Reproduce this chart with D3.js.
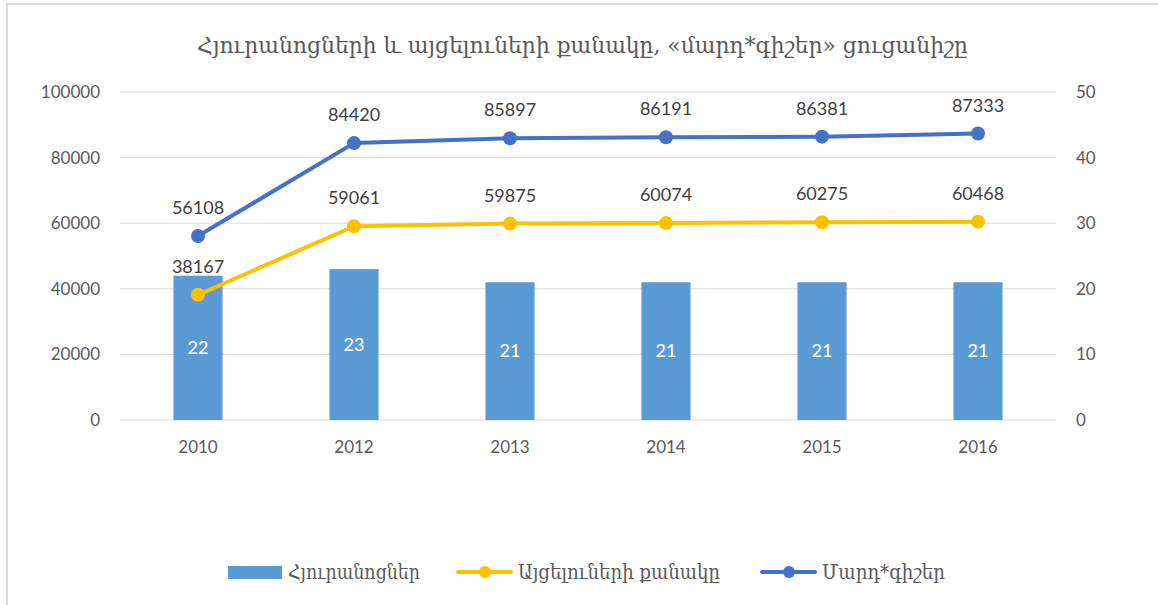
<!DOCTYPE html>
<html>
<head>
<meta charset="utf-8">
<script src="https://cdn.jsdelivr.net/npm/d3@7"></script>
<style>
  html, body { margin: 0; padding: 0; background: #fff; }
  svg { display: block; }
</style>
</head>
<body>
<div id="chart"></div>
<script>
// data
const years = ['2010', '2012', '2013', '2014', '2015', '2016'];
const hotels = [22, 23, 21, 21, 21, 21];
const visitors = [38167, 59061, 59875, 60074, 60275, 60468];
const nights = [56108, 84420, 85897, 86191, 86381, 87333];
const leftTicks = [0, 20000, 40000, 60000, 80000, 100000];
const rightTicks = [0, 10, 20, 30, 40, 50];

const title = 'Հյուրանոցների և այցելուների քանակը, «մարդ*գիշեր» ցուցանիշը';
const seriesNames = ['Հյուրանոցներ', 'Այցելուների քանակը', 'Մարդ*գիշեր'];

const width = 1158, height = 605;
const margin = { top: 92, right: 102, bottom: 185, left: 120 };
const numFont = 'Lato, "Open Sans", sans-serif';
const armFont = '"DejaVu Serif Condensed", "DejaVu Serif", serif';
const textColor = '#595959';
const colors = { bar: '#5b9bd5', visitors: '#ffc000', nights: '#4472c4' };

const svg = d3.select('#chart')
    .append('svg')
    .attr('width', width)
    .attr('height', height);

// chart frame
svg.append('rect')
    .attr('x', 7).attr('y', 4)
    .attr('width', width + 10).attr('height', height + 10)
    .attr('fill', 'none')
    .attr('stroke', '#d9d9d9')
    .attr('stroke-width', 2);

const x = d3.scaleBand()
    .domain(years)
    .range([margin.left, width - margin.right]);

const yLeft = d3.scaleLinear()
    .domain([0, 100000])
    .range([height - margin.bottom, margin.top]);

const yRight = d3.scaleLinear()
    .domain([0, 50])
    .range([height - margin.bottom, margin.top]);

// gridlines
svg.append('g')
    .selectAll('line')
    .data(leftTicks)
    .join('line')
    .attr('x1', margin.left)
    .attr('x2', width - margin.right)
    .attr('y1', (d) => yLeft(d))
    .attr('y2', (d) => yLeft(d))
    .attr('stroke', '#d9d9d9')
    .attr('stroke-width', 1);

// left axis
const leftAxis = svg.append('g')
    .attr('transform', `translate(${ margin.left }, 0)`)
    .call(d3.axisLeft(yLeft).tickValues(leftTicks).tickSize(0).tickPadding(20).tickFormat(d3.format('d')));
leftAxis.select('.domain').remove();
leftAxis.selectAll('text')
    .attr('font-family', numFont)
    .attr('font-size', 17)
    .attr('fill', textColor);

// right axis
const rightAxis = svg.append('g')
    .attr('transform', `translate(${ width - margin.right }, 0)`)
    .call(d3.axisRight(yRight).tickValues(rightTicks).tickSize(0).tickPadding(20));
rightAxis.select('.domain').remove();
rightAxis.selectAll('text')
    .attr('font-family', numFont)
    .attr('font-size', 17)
    .attr('fill', textColor);

// bottom axis
const bottomAxis = svg.append('g')
    .attr('transform', `translate(0, ${ height - margin.bottom })`)
    .call(d3.axisBottom(x).tickSize(0).tickPadding(21));
bottomAxis.select('.domain').remove();
bottomAxis.selectAll('text')
    .attr('font-family', numFont)
    .attr('font-size', 17)
    .attr('fill', textColor);

// bars
const barW = x.bandwidth() * 0.315;
svg.append('g')
    .selectAll('rect')
    .data(hotels)
    .join('rect')
    .attr('x', (d, i) => x(years[i]) + x.bandwidth() / 2 - barW / 2)
    .attr('y', (d) => yRight(d))
    .attr('width', barW)
    .attr('height', (d) => yRight(0) - yRight(d))
    .attr('fill', colors.bar);

svg.append('g')
    .selectAll('text')
    .data(hotels)
    .join('text')
    .attr('x', (d, i) => x(years[i]) + x.bandwidth() / 2)
    .attr('y', (d) => (yRight(d) + yRight(0)) / 2 + 6)
    .attr('text-anchor', 'middle')
    .attr('font-family', numFont)
    .attr('font-size', 18)
    .attr('fill', '#fff')
    .text((d) => d);

// lines
const cx = (i) => x(years[i]) + x.bandwidth() / 2;
function drawLine(values, color) {
    const line = d3.line()
        .x((d, i) => cx(i))
        .y((d) => yLeft(d));
    const g = svg.append('g');
    g.append('path')
        .datum(values)
        .attr('d', line)
        .attr('fill', 'none')
        .attr('stroke', color)
        .attr('stroke-width', 4)
        .attr('stroke-linejoin', 'round');
    g.selectAll('circle')
        .data(values)
        .join('circle')
        .attr('cx', (d, i) => cx(i))
        .attr('cy', (d) => yLeft(d))
        .attr('r', 7)
        .attr('fill', color);
    g.selectAll('text')
        .data(values)
        .join('text')
        .attr('x', (d, i) => cx(i))
        .attr('y', (d) => yLeft(d) - 22)
        .attr('text-anchor', 'middle')
        .attr('font-family', numFont)
        .attr('font-size', 18)
        .attr('fill', '#404040')
        .text((d) => d);
}
drawLine(visitors, colors.visitors);
drawLine(nights, colors.nights);

// title
svg.append('text')
    .attr('x', 197)
    .attr('y', 53)
    .attr('font-family', armFont)
    .attr('font-size', 23)
    .attr('fill', textColor)
    .attr('textLength', 771)
    .attr('lengthAdjust', 'spacingAndGlyphs')
    .text(title);

// legend
const legendY = 572;
const legend = svg.append('g');
legend.append('rect')
    .attr('x', 228).attr('y', legendY - 6)
    .attr('width', 54).attr('height', 13)
    .attr('fill', colors.bar);
legend.append('text')
    .attr('x', 288).attr('y', legendY + 7)
    .attr('font-family', armFont).attr('font-size', 20).attr('fill', textColor)
    .attr('textLength', 132).attr('lengthAdjust', 'spacingAndGlyphs')
    .text(seriesNames[0]);

[[458, colors.visitors, seriesNames[1], 202], [762, colors.nights, seriesNames[2], 123]].forEach(([lx, c, name, tl]) => {
    legend.append('line')
        .attr('x1', lx).attr('x2', lx + 53)
        .attr('y1', legendY).attr('y2', legendY)
        .attr('stroke', c).attr('stroke-width', 4).attr('stroke-linecap', 'round');
    legend.append('circle')
        .attr('cx', lx + 27).attr('cy', legendY).attr('r', 6).attr('fill', c);
    legend.append('text')
        .attr('x', lx + 60).attr('y', legendY + 7)
        .attr('font-family', armFont).attr('font-size', 20).attr('fill', textColor)
        .attr('textLength', tl).attr('lengthAdjust', 'spacingAndGlyphs')
        .text(name);
});
</script>
</body>
</html>
